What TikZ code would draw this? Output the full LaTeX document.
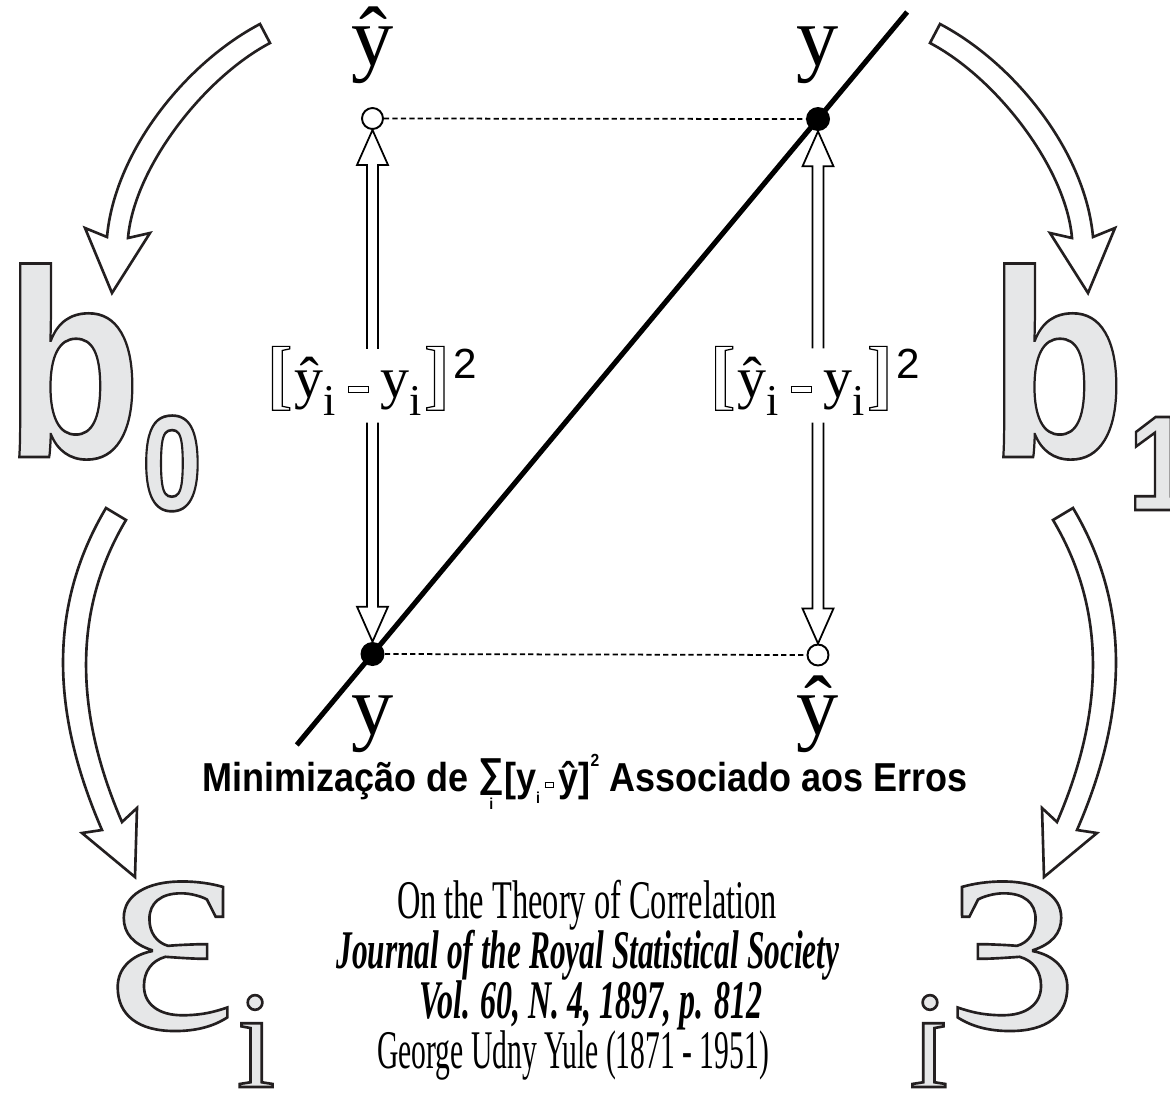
\documentclass[tikz,border=0pt]{standalone}
\usepackage{fontspec}
\usepackage{graphicx}
\usetikzlibrary{calc}
\setmainfont{Liberation Serif}
\newfontfamily\sansf{Liberation Sans}
\definecolor{lettergray}{HTML}{E6E7E8}
\definecolor{inkdark}{HTML}{231F20}
\newdimen\pxu \pxu=0.02cm
% outlined letters: gray fill, dark stroke
\newcommand\outl[1]{{\color{lettergray}\special{pdf:literal direct 2 Tr 1.5 w 0.137 0.122 0.125 RG}#1\special{pdf:literal direct 0 Tr}}}
% hollow (stroke only) glyph
\newcommand\holl[2]{{\special{pdf:literal direct 1 Tr #1 w}#2\special{pdf:literal direct 0 Tr}}}
\newcommand\hollowbar[3]{\raisebox{#3}{\setlength\fboxsep{0pt}\setlength\fboxrule{0.55pt}\fbox{\rule{#1}{0pt}\rule{0pt}{#2}}}}
\newcommand\toparrow{\draw[bigarrow] (260,24) -- (270,43) .. controls (203.6,78) and (134,168) .. (128,238) -- (150,233) -- (112,293) -- (85,228) -- (107,237) .. controls (114.5,152.3) and (184.8,63.6) .. (260,24) -- cycle;}
\newcommand\botarrow{\draw[bigarrow] (106,508) -- (126,520) .. controls (67,619) and (80,725) .. (122,822) -- (137,808) -- (135,877) -- (82,833) -- (102,830) .. controls (54,719.6) and (44.8,611) .. (106,508) -- cycle;}
\newcommand\uphead[2]{\draw[dblarrow] ($(#1)+(-5.5,#2)$) -- ($(#1)+(-5.5,35)$) -- ($(#1)+(-15.5,35)$) -- (#1) -- ($(#1)+(15.5,35)$) -- ($(#1)+(5.5,35)$) -- ($(#1)+(5.5,#2)$);}
\newcommand\downhead[2]{\draw[dblarrow] ($(#1)+(-5.5,-#2)$) -- ($(#1)+(-5.5,-35)$) -- ($(#1)+(-15.5,-35)$) -- (#1) -- ($(#1)+(15.5,-35)$) -- ($(#1)+(5.5,-35)$) -- ($(#1)+(5.5,-#2)$);}
\newcommand\bigbrack[1]{\raisebox{-3\pxu}{\holl{0.7}{\fontsize{44}{44}\selectfont\bfseries #1}}}
\newcommand\errlabel{\bigbrack{[}\kern2\pxu ŷ\raisebox{-18\pxu}{\fontsize{25}{25}\selectfont i}\kern12\pxu\hollowbar{19\pxu}{5\pxu}{5\pxu}\kern12\pxu y\raisebox{-18\pxu}{\fontsize{25}{25}\selectfont i}\kern2\pxu\bigbrack{]}\kern4\pxu\raisebox{19\pxu}{\sansf\fontsize{24}{24}\selectfont 2}}
\newcommand\capsum{\raisebox{5\pxu}{$\mathop{\hbox{\fontsize{23}{23}\selectfont ∑}}\limits_{\hbox{\fontsize{9}{9}\selectfont i}}$}}
\begin{document}
\begin{tikzpicture}[x=0.02cm,y=-0.02cm,
  bigarrow/.style={draw=inkdark, line width=1.5pt, fill=white, line join=miter},
  dblarrow/.style={draw=black, line width=1pt, line join=miter},
  fulldot/.style={circle, fill=black, minimum size=0.48cm, inner sep=0pt},
  opendot/.style={circle, draw=black, line width=1.1pt, fill=white, minimum size=0.42cm, inner sep=0pt},
  regline/.style={line width=2.9pt},
  dashline/.style={line width=1pt, dash pattern=on 3pt off 1.8pt},
  lbl/.style={inner sep=0pt, anchor=base},
]
\useasboundingbox[fill=white] (0,0) rectangle (1170,1093);

% curved hollow arrows
\toparrow
\begin{scope}[shift={(1200,0)}, xscale=-1]\toparrow\end{scope}
\botarrow
\begin{scope}[shift={(1179,0)}, xscale=-1]\botarrow\end{scope}

% regression line
\coordinate (pBL) at (372.5,654);
\coordinate (pTR) at (818,119);
\draw[regline] ($(pBL)!-0.17!(pTR)$) -- ($(pBL)!1.2!(pTR)$);

% points
\node[opendot] (hatTL) at (372.5,118.5) {};
\node[fulldot] (dotTR) at (pTR) {};
\node[fulldot] (dotBL) at (pBL) {};
\node[opendot] (hatBR) at (818,655) {};

\draw[dashline] (hatTL.east) -- (dotTR.west);
\draw[dashline] (dotBL.east) -- (hatBR.west);

% double hollow arrows
\uphead{hatTL.south}{219}
\downhead{dotBL.north}{219}
\uphead{dotTR.south}{217}
\downhead{hatBR.north}{221}

% point labels
\node[lbl, font=\fontsize{48}{48}\selectfont] (tHat) at (372.5,65) {ŷ};
\node[lbl, font=\fontsize{48}{48}\selectfont] (tY) at (818,65) {y};
\node[lbl, font=\fontsize{48}{48}\selectfont] (bY) at (372.5,734) {y};
\node[lbl, font=\fontsize{48}{48}\selectfont] (bHat) at (818,734) {ŷ};

% error labels
\node[lbl, font=\fontsize{33}{33}\selectfont] (errL) at (372,397) {\errlabel};
\node[lbl, font=\fontsize{33}{33}\selectfont] (errR) at (815,397) {\errlabel};

% big outlined letters
\node[lbl, font=\sansf\bfseries\fontsize{152}{152}\selectfont] (b0) at (73,457) {\scalebox{0.84}[1]{\outl{b}}};
\node[lbl, font=\sansf\bfseries\fontsize{77}{77}\selectfont] (zero) at (172,510) {\scalebox{0.8}[1]{\outl{0}}};
\node[lbl, font=\sansf\bfseries\fontsize{152}{152}\selectfont] (b1) at (1057,457) {\scalebox{0.84}[1]{\outl{b}}};
\node[lbl, font=\sansf\bfseries\fontsize{77}{77}\selectfont] (one) at (1160,510) {\scalebox{0.85}[1]{\outl{1}}};

\node[lbl, font=\fontsize{177}{177}\selectfont] (eps) at (171,1028) {\outl{ε}};
\node[lbl, font=\fontsize{79}{79}\selectfont] (epsi) at (256,1087) {\outl{i}};
\begin{scope}[shift={(1185,0)}, xscale=-1]
\node[lbl, transform shape, font=\fontsize{177}{177}\selectfont] (epsR) at (171,1028) {\outl{ε}};
\node[lbl, transform shape, font=\fontsize{79}{79}\selectfont] (epsiR) at (256,1087) {\outl{i}};
\end{scope}

% caption
\node[lbl, font=\sansf\bfseries\fontsize{23}{23}\selectfont] (cap) at (585,791)
  {\resizebox{765\pxu}{\height}{Minimização de \capsum[y\raisebox{-0.3em}{\fontsize{9}{9}\selectfont i}\kern5\pxu\hollowbar{9\pxu}{4\pxu}{4\pxu}\kern5\pxu ŷ]\raisebox{0.6em}{\fontsize{10}{10}\selectfont 2} Associado aos Erros}};

% reference
\node[lbl, font=\fontsize{31}{31}\selectfont] (ref1) at (587,918) {\resizebox{380\pxu}{\height}{On the Theory of Correlation}};
\node[lbl, font=\bfseries\itshape\fontsize{31}{31}\selectfont] (ref2) at (588,968) {\resizebox{503\pxu}{\height}{Journal of the Royal Statistical Society}};
\node[lbl, font=\bfseries\itshape\fontsize{31}{31}\selectfont] (ref3) at (591,1018) {\resizebox{343\pxu}{\height}{Vol. 60, N. 4, 1897, p. 812}};
\node[lbl, font=\fontsize{31}{31}\selectfont] (ref4) at (573,1068) {\resizebox{392\pxu}{\height}{George Udny Yule (1871 - 1951)}};
\end{tikzpicture}
\end{document}
